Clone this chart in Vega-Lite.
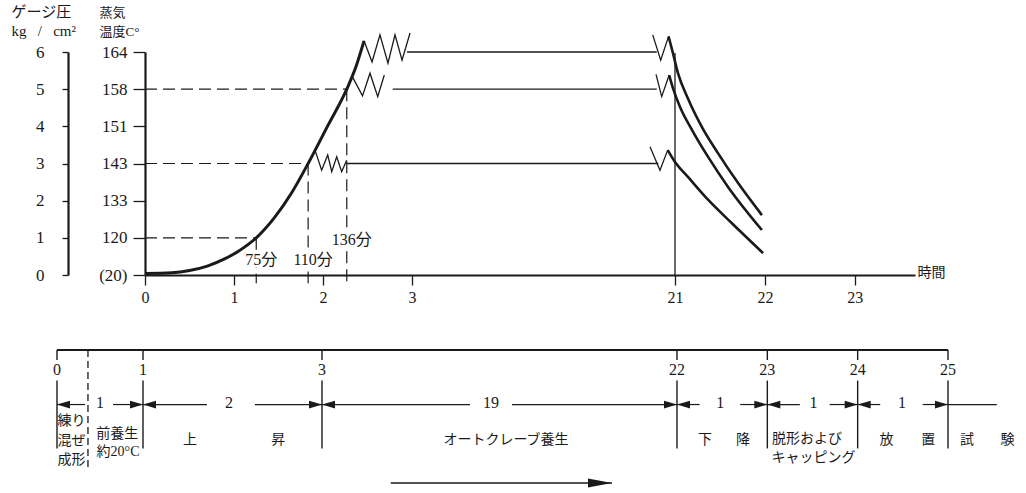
{
  "$schema": "https://vega.github.io/schema/vega-lite/v6.json",
  "width": 1026,
  "height": 493,
  "autosize": "none",
  "padding": 0,
  "background": "white",
  "config": {
    "view": {"stroke": null},
    "axis": {"grid": false},
    "font": "Liberation Serif, Noto Sans CJK JP"
  },
  "datasets": {
    "rise": [
      {"h": 0, "v": 0.04}, {"h": 0.3, "v": 0.06}, {"h": 0.5, "v": 0.12},
      {"h": 0.7, "v": 0.24}, {"h": 0.9, "v": 0.44}, {"h": 1.05, "v": 0.64},
      {"h": 1.25, "v": 1.0}, {"h": 1.45, "v": 1.53}, {"h": 1.65, "v": 2.22},
      {"h": 1.833, "v": 3.0}, {"h": 2.05, "v": 4.0}, {"h": 2.267, "v": 5.0},
      {"h": 2.37, "v": 5.6}, {"h": 2.461, "v": 6.3}
    ],
    "breaks": [
      {"id": "z164", "h": 2.461, "v": 6.3}, {"id": "z164", "h": 2.551, "v": 5.73},
      {"id": "z164", "h": 2.64, "v": 6.46}, {"id": "z164", "h": 2.73, "v": 5.7},
      {"id": "z164", "h": 2.809, "v": 6.46}, {"id": "z164", "h": 2.888, "v": 5.78},
      {"id": "z164", "h": 2.978, "v": 6.51},
      {"id": "z158", "h": 2.326, "v": 5.35}, {"id": "z158", "h": 2.444, "v": 4.82},
      {"id": "z158", "h": 2.528, "v": 5.43}, {"id": "z158", "h": 2.615, "v": 4.8},
      {"id": "z158", "h": 2.689, "v": 5.38},
      {"id": "z143", "h": 1.91, "v": 3.36}, {"id": "z143", "h": 1.985, "v": 2.82},
      {"id": "z143", "h": 2.053, "v": 3.23}, {"id": "z143", "h": 2.098, "v": 2.78},
      {"id": "z143", "h": 2.154, "v": 3.18}, {"id": "z143", "h": 2.21, "v": 2.78},
      {"id": "z143", "h": 2.266, "v": 3.09},
      {"id": "b164", "h": 19.475, "v": 6.46}, {"id": "b164", "h": 20.02, "v": 5.78},
      {"id": "b164", "h": 20.56, "v": 6.42},
      {"id": "b158", "h": 19.7, "v": 5.4}, {"id": "b158", "h": 20.09, "v": 4.8},
      {"id": "b158", "h": 20.6, "v": 5.38},
      {"id": "b143", "h": 19.29, "v": 3.45}, {"id": "b143", "h": 19.97, "v": 2.82},
      {"id": "b143", "h": 20.5, "v": 3.36}
    ],
    "decay": [
      {"id": "164", "h": 20.56, "v": 6.42}, {"id": "164", "h": 20.86, "v": 5.97},
      {"id": "164", "h": 21.033, "v": 5.43}, {"id": "164", "h": 21.144, "v": 4.75},
      {"id": "164", "h": 21.3, "v": 3.98}, {"id": "164", "h": 21.478, "v": 3.28},
      {"id": "164", "h": 21.7, "v": 2.48}, {"id": "164", "h": 21.967, "v": 1.61},
      {"id": "158", "h": 20.6, "v": 5.38}, {"id": "158", "h": 20.86, "v": 5.03},
      {"id": "158", "h": 21.056, "v": 4.52}, {"id": "158", "h": 21.19, "v": 3.9},
      {"id": "158", "h": 21.37, "v": 3.17}, {"id": "158", "h": 21.59, "v": 2.37},
      {"id": "158", "h": 21.967, "v": 1.21},
      {"id": "143", "h": 20.5, "v": 3.36}, {"id": "143", "h": 21.0, "v": 3.04},
      {"id": "143", "h": 21.144, "v": 2.64}, {"id": "143", "h": 21.37, "v": 2.02},
      {"id": "143", "h": 21.63, "v": 1.4}, {"id": "143", "h": 21.98, "v": 0.59}
    ],
    "holds": [
      {"h": 2.944, "h2": 19.75, "v": 6, "v2": 6},
      {"h": 2.783, "h2": 19.75, "v": 5, "v2": 5},
      {"h": 2.266, "h2": 19.86, "v": 3, "v2": 3},
      {"h": 21, "h2": 21, "v": 0, "v2": 5.97}
    ],
    "guides": [
      {"h": 0, "h2": 1.25, "v": 1, "v2": 1},
      {"h": 0, "h2": 1.833, "v": 3, "v2": 3},
      {"h": 0, "h2": 2.267, "v": 5, "v2": 5},
      {"h": 1.25, "h2": 1.25, "v": 1, "v2": -0.22},
      {"h": 1.833, "h2": 1.833, "v": 3, "v2": -0.22},
      {"h": 2.267, "h2": 2.267, "v": 5, "v2": -0.22}
    ],
    "notes": [
      {"text": "75分", "h": 1.25, "v": 0.4},
      {"text": "110分", "h": 1.833, "v": 0.4},
      {"text": "136分", "h": 2.267, "v": 0.94}
    ],
    "span": [{"start": 0, "end": 25}],
    "milestones": [
      {"h": 0, "label": "0"}, {"h": 1, "label": "1"}, {"h": 3, "label": "3"},
      {"h": 22, "label": "22"}, {"h": 23, "label": "23"}, {"h": 24, "label": "24"},
      {"h": 25, "label": "25"}
    ],
    "mixing": [{"h": 0.36}],
    "steps": [
      {"from": 0, "to": 1, "dur": "1", "at": 0.5, "gap0": 0.326, "gap1": 0.651},
      {"from": 1, "to": 3, "dur": "2", "at": 1.96, "gap0": 1.715, "gap1": 2.251},
      {"from": 3, "to": 22, "dur": "19", "at": 12.05, "gap0": 10.92, "gap1": 13.17},
      {"from": 22, "to": 23, "dur": "1", "at": 22.48, "gap0": 22.25, "gap1": 22.7},
      {"from": 23, "to": 24, "dur": "1", "at": 23.51, "gap0": 23.36, "gap1": 23.69},
      {"from": 24, "to": 25, "dur": "1", "at": 24.49, "gap0": 24.25, "gap1": 24.72}
    ],
    "tail": [{"h": 25, "h2": 25.54}],
    "phases": [
      {"text": "練り", "h": 0.17, "lane": 5.34},
      {"text": "混ぜ", "h": 0.17, "lane": 6.84},
      {"text": "成形", "h": 0.17, "lane": 8.27},
      {"text": "前養生", "h": 0.7, "lane": 6.3},
      {"text": "約20°C", "h": 0.71, "lane": 7.67},
      {"text": "上", "h": 1.525, "lane": 6.77},
      {"text": "昇", "h": 2.51, "lane": 6.77},
      {"text": "オートクレーブ養生", "h": 12.85, "lane": 6.77},
      {"text": "下", "h": 22.31, "lane": 6.77},
      {"text": "降", "h": 22.73, "lane": 6.77},
      {"text": "脱形および", "h": 23.44, "lane": 6.7},
      {"text": "キャッピング", "h": 23.51, "lane": 8.1},
      {"text": "放", "h": 24.32, "lane": 6.77},
      {"text": "置", "h": 24.78, "lane": 6.77},
      {"text": "試", "h": 25.21, "lane": 6.77},
      {"text": "験", "h": 25.66, "lane": 6.77}
    ],
    "flow": [{"start": 6.68, "tip": 18.52}]
  },
  "layer": [
    {
      "layer": [
        {
          "data": {"name": "guides"},
          "mark": {"type": "rule", "strokeDash": [12, 6], "strokeWidth": 1.2, "color": "#1a1a1a"},
          "encoding": {
            "x": {
              "field": "h", "type": "quantitative",
              "scale": {"type": "linear", "domain": [0, 3, 21, 23.67], "range": [145, 412, 675, 915], "nice": false, "zero": false},
              "axis": {
                "orient": "bottom", "offset": -218, "values": [0, 1, 2, 3, 21, 22, 23],
                "grid": false, "domain": true, "domainColor": "#1a1a1a", "domainWidth": 2,
                "ticks": true, "tickSize": 10, "tickWidth": 1.3, "tickColor": "#1a1a1a",
                "labelFont": "Liberation Serif", "labelFontSize": 16, "labelColor": "#1a1a1a",
                "labelPadding": 4, "labelFlush": false, "labelOverlap": false,
                "title": "時間", "titleFont": "Noto Sans CJK JP", "titleFontSize": 14,
                "titleFontWeight": "normal", "titleColor": "#1a1a1a", "titleAngle": 0,
                "titleX": 917, "titleY": -3, "titleAlign": "left", "titleBaseline": "middle"
              }
            },
            "x2": {"field": "h2"},
            "y": {
              "field": "v", "type": "quantitative",
              "scale": {"type": "linear", "domain": [0, 6], "range": [275, 52], "nice": false, "zero": false},
              "axis": {
                "orient": "left", "offset": -68, "values": [0, 1, 2, 3, 4, 5, 6],
                "grid": false, "domain": true, "domainColor": "#1a1a1a", "domainWidth": 2.2,
                "tickSize": 6, "tickWidth": 1.3, "tickColor": "#1a1a1a",
                "labelFont": "Liberation Serif", "labelFontSize": 17, "labelColor": "#1a1a1a",
                "labelPadding": 18, "labelFlush": false, "labelOverlap": false,
                "labelBaseline": "middle", "labelAlign": "right",
                "title": ["ゲージ圧", "kg\u00a0\u00a0\u00a0/\u00a0\u00a0\u00a0cm²"],
                "titleFont": "Liberation Serif, Noto Sans CJK JP", "titleFontSize": 15,
                "titleFontWeight": "normal", "titleColor": "#1a1a1a", "titleAngle": 0,
                "titleAlign": "left", "titleBaseline": "top", "titleX": -57, "titleY": 4,
                "titleLineHeight": 19
              }
            },
            "y2": {"field": "v2"}
          }
        },
        {
          "data": {"name": "rise"},
          "mark": {"type": "line", "interpolate": "monotone", "strokeWidth": 3, "color": "#1a1a1a"},
          "encoding": {
            "x": {"field": "h", "type": "quantitative",
              "scale": {"type": "linear", "domain": [0, 3, 21, 23.67], "range": [145, 412, 675, 915], "nice": false, "zero": false}},
            "y": {
              "field": "v", "type": "quantitative",
              "scale": {"type": "linear", "domain": [0, 6], "range": [275, 52], "nice": false, "zero": false},
              "axis": {
                "orient": "left", "offset": -145, "values": [0, 1, 2, 3, 4, 5, 6],
                "labelExpr": "['(20)','120','133','143','151','158','164'][datum.value]",
                "grid": false, "domain": true, "domainColor": "#1a1a1a", "domainWidth": 2.2,
                "tickSize": 12, "tickWidth": 1.3, "tickColor": "#1a1a1a",
                "labelFont": "Liberation Serif", "labelFontSize": 17, "labelColor": "#1a1a1a",
                "labelPadding": 6, "labelFlush": false, "labelOverlap": false,
                "labelBaseline": "middle", "labelAlign": "right",
                "title": ["蒸気", "温度C°"],
                "titleFont": "Liberation Serif, Noto Sans CJK JP", "titleFontSize": 13,
                "titleFontWeight": "normal", "titleColor": "#1a1a1a", "titleAngle": 0,
                "titleAlign": "left", "titleBaseline": "top", "titleX": -46, "titleY": 6,
                "titleLineHeight": 19
              }
            }
          }
        },
        {
          "data": {"name": "breaks"},
          "mark": {"type": "line", "strokeWidth": 1.3, "color": "#1a1a1a"},
          "encoding": {
            "x": {"field": "h", "type": "quantitative"},
            "y": {"field": "v", "type": "quantitative", "axis": null},
            "detail": {"field": "id"}
          }
        },
        {
          "data": {"name": "holds"},
          "mark": {"type": "rule", "strokeWidth": 1.3, "color": "#1a1a1a"},
          "encoding": {
            "x": {"field": "h", "type": "quantitative"},
            "x2": {"field": "h2"},
            "y": {"field": "v", "type": "quantitative", "axis": null},
            "y2": {"field": "v2"}
          }
        },
        {
          "data": {"name": "decay"},
          "mark": {"type": "line", "interpolate": "monotone", "strokeWidth": 2.6, "color": "#1a1a1a"},
          "encoding": {
            "x": {"field": "h", "type": "quantitative"},
            "y": {"field": "v", "type": "quantitative", "axis": null},
            "detail": {"field": "id"}
          }
        },
        {
          "data": {"name": "notes"},
          "mark": {"type": "text", "font": "Liberation Serif, Noto Sans CJK JP", "fontSize": 16, "color": "white", "stroke": "white", "strokeWidth": 5, "align": "center", "baseline": "middle", "dx": 5},
          "encoding": {
            "x": {"field": "h", "type": "quantitative"},
            "y": {"field": "v", "type": "quantitative", "axis": null},
            "text": {"field": "text"}
          }
        },
        {
          "data": {"name": "notes"},
          "mark": {"type": "text", "font": "Liberation Serif, Noto Sans CJK JP", "fontSize": 16, "color": "#1a1a1a", "align": "center", "baseline": "middle", "dx": 5},
          "encoding": {
            "x": {"field": "h", "type": "quantitative"},
            "y": {"field": "v", "type": "quantitative", "axis": null},
            "text": {"field": "text"}
          }
        }
      ],
      "resolve": {"axis": {"y": "independent"}}
    },
    {
      "layer": [
        {
          "data": {"name": "span"},
          "mark": {"type": "rule", "strokeWidth": 2, "color": "#1a1a1a"},
          "encoding": {
            "x": {"field": "start", "type": "quantitative", "axis": null,
              "scale": {"type": "linear", "domain": [0, 1, 3, 22, 25], "range": [57, 143, 322, 677, 948], "nice": false, "zero": false}},
            "x2": {"field": "end"},
            "y": {"datum": 0, "type": "quantitative", "axis": null,
              "scale": {"type": "linear", "domain": [0, 10], "range": [350, 483], "nice": false, "zero": false}}
          }
        },
        {
          "data": {"name": "milestones"},
          "mark": {"type": "rule", "strokeWidth": 1.4, "color": "#1a1a1a"},
          "encoding": {
            "x": {"field": "h", "type": "quantitative", "axis": null},
            "y": {"datum": 0, "type": "quantitative", "axis": null},
            "y2": {"datum": 0.75}
          }
        },
        {
          "data": {"name": "milestones"},
          "mark": {"type": "rule", "strokeWidth": 1.4, "color": "#1a1a1a"},
          "encoding": {
            "x": {"field": "h", "type": "quantitative", "axis": null},
            "y": {"datum": 2.3, "type": "quantitative", "axis": null},
            "y2": {"datum": 7.4}
          }
        },
        {
          "data": {"name": "milestones"},
          "mark": {"type": "text", "font": "Liberation Serif", "fontSize": 16, "color": "#1a1a1a", "align": "center", "baseline": "middle"},
          "encoding": {
            "x": {"field": "h", "type": "quantitative", "axis": null},
            "y": {"datum": 1.5, "type": "quantitative", "axis": null},
            "text": {"field": "label"}
          }
        },
        {
          "data": {"name": "mixing"},
          "mark": {"type": "rule", "strokeWidth": 1.3, "strokeDash": [7, 4], "color": "#1a1a1a"},
          "encoding": {
            "x": {"field": "h", "type": "quantitative", "axis": null},
            "y": {"datum": 0, "type": "quantitative", "axis": null},
            "y2": {"datum": 8.87}
          }
        },
        {
          "data": {"name": "steps"},
          "mark": {"type": "rule", "strokeWidth": 1.2, "color": "#1a1a1a"},
          "encoding": {
            "x": {"field": "from", "type": "quantitative", "axis": null},
            "x2": {"field": "gap0"},
            "y": {"datum": 4.1, "type": "quantitative", "axis": null}
          }
        },
        {
          "data": {"name": "steps"},
          "mark": {"type": "rule", "strokeWidth": 1.2, "color": "#1a1a1a"},
          "encoding": {
            "x": {"field": "gap1", "type": "quantitative", "axis": null},
            "x2": {"field": "to"},
            "y": {"datum": 4.1, "type": "quantitative", "axis": null}
          }
        },
        {
          "data": {"name": "tail"},
          "mark": {"type": "rule", "strokeWidth": 1.2, "color": "#1a1a1a"},
          "encoding": {
            "x": {"field": "h", "type": "quantitative", "axis": null},
            "x2": {"field": "h2"},
            "y": {"datum": 4.1, "type": "quantitative", "axis": null}
          }
        },
        {
          "data": {"name": "steps"},
          "mark": {"type": "point", "filled": true, "opacity": 1, "strokeWidth": 0, "color": "#1a1a1a", "size": 169, "shape": "M0,0L2,-0.6L2,0.6Z"},
          "encoding": {
            "x": {"field": "from", "type": "quantitative", "axis": null},
            "y": {"datum": 4.1, "type": "quantitative", "axis": null}
          }
        },
        {
          "data": {"name": "steps"},
          "mark": {"type": "point", "filled": true, "opacity": 1, "strokeWidth": 0, "color": "#1a1a1a", "size": 169, "shape": "M0,0L-2,-0.6L-2,0.6Z"},
          "encoding": {
            "x": {"field": "to", "type": "quantitative", "axis": null},
            "y": {"datum": 4.1, "type": "quantitative", "axis": null}
          }
        },
        {
          "data": {"name": "steps"},
          "mark": {"type": "text", "font": "Liberation Serif", "fontSize": 16, "color": "#1a1a1a", "align": "center", "baseline": "middle"},
          "encoding": {
            "x": {"field": "at", "type": "quantitative", "axis": null},
            "y": {"datum": 4.0, "type": "quantitative", "axis": null},
            "text": {"field": "dur"}
          }
        },
        {
          "data": {"name": "phases"},
          "mark": {"type": "text", "font": "Liberation Serif, Noto Sans CJK JP", "fontSize": 14, "color": "#1a1a1a", "align": "center", "baseline": "middle"},
          "encoding": {
            "x": {"field": "h", "type": "quantitative", "axis": null},
            "y": {"field": "lane", "type": "quantitative", "axis": null},
            "text": {"field": "text"}
          }
        },
        {
          "data": {"name": "flow"},
          "mark": {"type": "rule", "strokeWidth": 1.6, "color": "#1a1a1a"},
          "encoding": {
            "x": {"field": "start", "type": "quantitative", "axis": null},
            "x2": {"field": "tip"},
            "y": {"datum": 10, "type": "quantitative", "axis": null}
          }
        },
        {
          "data": {"name": "flow"},
          "mark": {"type": "point", "filled": true, "opacity": 1, "strokeWidth": 0, "color": "#1a1a1a", "size": 576, "shape": "M0,0L-2,-0.375L-2,0.375Z"},
          "encoding": {
            "x": {"field": "tip", "type": "quantitative", "axis": null},
            "y": {"datum": 10, "type": "quantitative", "axis": null}
          }
        }
      ]
    }
  ],
  "resolve": {
    "scale": {"x": "independent", "y": "independent"},
    "axis": {"x": "independent", "y": "independent"}
  }
}
